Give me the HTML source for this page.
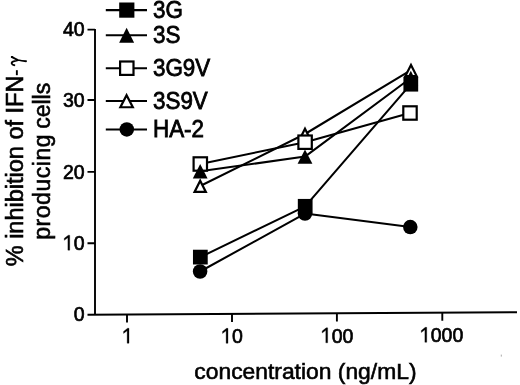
<!DOCTYPE html>
<html><head><meta charset="utf-8">
<style>
html,body{margin:0;padding:0;background:#fff;}
body{width:520px;height:385px;overflow:hidden;}
svg{display:block;filter:blur(0.3px);}
text{font-family:"Liberation Sans",sans-serif;fill:#000;stroke:#000;stroke-width:0.6px;}
</style></head>
<body>
<svg width="520" height="385" viewBox="0 0 520 385">
<g stroke="#000" stroke-width="1.9" fill="none" stroke-linecap="butt">
<path d="M95,29 V314.8"/>
<path d="M87.5,314.8 L517,312.2"/>
<path d="M87.5,29.6 H95 M87.5,100.0 H95 M87.5,171.9 H95 M87.5,243.3 H95"/>
<path d="M127,314.5 V322.6 M232,313.9 V322.1 M336.9,313.3 V321.4 M442.3,312.6 V320.8"/>
</g>
<text transform="translate(62.92,36.35) scale(1,1.08)" font-size="19.5" style="stroke-width:0.65px">4</text>
<text transform="translate(73.76,36.35) scale(1,1.08)" font-size="19.5" style="stroke-width:0.65px">0</text>
<text transform="translate(62.92,107.35) scale(1,1.08)" font-size="19.5" style="stroke-width:0.65px">3</text>
<text transform="translate(73.76,107.35) scale(1,1.08)" font-size="19.5" style="stroke-width:0.65px">0</text>
<text transform="translate(62.92,178.75) scale(1,1.08)" font-size="19.5" style="stroke-width:0.65px">2</text>
<text transform="translate(73.76,178.75) scale(1,1.08)" font-size="19.5" style="stroke-width:0.65px">0</text>
<text transform="translate(73.76,250.15) scale(1,1.08)" font-size="19.5" style="stroke-width:0.65px">0</text>
<polygon points="69.74,235.22 68.28,235.22 64.28,238.36 64.28,240.36 67.89,237.72 67.89,250.15 69.74,250.15" fill="#000" stroke="#000" stroke-width="0.3" stroke-linejoin="round"/>
<text transform="translate(73.76,321.05) scale(1,1.08)" font-size="19.5" style="stroke-width:0.65px">0</text>
<polygon points="129.00,328.27 127.54,328.27 123.54,331.41 123.54,333.41 127.15,330.77 127.15,343.20 129.00,343.20" fill="#000" stroke="#000" stroke-width="0.3" stroke-linejoin="round"/>
<text transform="translate(232.00,343.30) scale(1,1.08)" font-size="19.5" style="stroke-width:0.65px">0</text>
<polygon points="227.98,328.37 226.52,328.37 222.52,331.51 222.52,333.51 226.13,330.87 226.13,343.30 227.98,343.30" fill="#000" stroke="#000" stroke-width="0.3" stroke-linejoin="round"/>
<text transform="translate(331.68,342.80) scale(1,1.08)" font-size="19.5" style="stroke-width:0.65px">0</text>
<text transform="translate(342.52,342.80) scale(1,1.08)" font-size="19.5" style="stroke-width:0.65px">0</text>
<polygon points="327.66,327.87 326.20,327.87 322.20,331.01 322.20,333.01 325.81,330.37 325.81,342.80 327.66,342.80" fill="#000" stroke="#000" stroke-width="0.3" stroke-linejoin="round"/>
<text transform="translate(430.76,342.30) scale(1,1.08)" font-size="19.5" style="stroke-width:0.65px">0</text>
<text transform="translate(441.60,342.30) scale(1,1.08)" font-size="19.5" style="stroke-width:0.65px">0</text>
<text transform="translate(452.44,342.30) scale(1,1.08)" font-size="19.5" style="stroke-width:0.65px">0</text>
<polygon points="426.74,327.37 425.28,327.37 421.28,330.51 421.28,332.51 424.89,329.87 424.89,342.30 426.74,342.30" fill="#000" stroke="#000" stroke-width="0.3" stroke-linejoin="round"/>
<text x="194.3" y="378.9" font-size="22.85" style="stroke-width:0.6px">concentration (ng/mL)</text>
<g transform="translate(23.1,265.5) rotate(-90)">
<text x="-0.8" y="0" font-size="23.5">% inhibition of IFN</text>
</g>
<rect x="15.9" y="70.2" width="1.9" height="5" fill="#000"/>
<path d="M11.7,56.9 C14,58.2 16.2,59.4 18.2,60 C20.5,60.6 23.5,61 26.1,61.25 M18.2,60.25 L13.6,61.4 Q11.4,62.2 11.7,63.6 Q12.1,65 14.4,65.25" fill="none" stroke="#000" stroke-width="1.8" stroke-linecap="round"/>
<circle cx="12.1" cy="57.1" r="1.15" fill="#000"/>
<g transform="translate(49.7,238.2) rotate(-90)">
<text x="-1.5" y="0" font-size="23" textLength="105.2" lengthAdjust="spacing">producing</text>
<text x="109.4" y="0" font-size="23">cells</text>
</g>
<g stroke="#000" stroke-width="2.05" fill="none" stroke-linejoin="round">
<polyline points="200.2,186 305,134 411,70.15"/>
<polyline points="200.3,164 305.1,142.2 410,113"/>
<polyline points="200.35,257.1 305.2,206.3 410.8,84.2"/>
<polyline points="200.2,171.3 305,156.6 410.8,78"/>
<polyline points="200.1,271.5 305,213.6 410.3,227.1"/>
</g>
<g>
<polygon points="200.20,180.78 205.84,191.88 194.56,191.88" fill="#fff" stroke="#000" stroke-width="2.2" stroke-linejoin="miter"/>
<polygon points="305.00,128.78 310.64,139.88 299.36,139.88" fill="#fff" stroke="#000" stroke-width="2.2" stroke-linejoin="miter"/>
<polygon points="411.00,64.93 416.64,76.03 405.36,76.03" fill="#fff" stroke="#000" stroke-width="2.2" stroke-linejoin="miter"/>
<rect x="193.60" y="157.30" width="13.40" height="13.40" fill="#fff" stroke="#000" stroke-width="2.2"/>
<rect x="298.40" y="135.50" width="13.40" height="13.40" fill="#fff" stroke="#000" stroke-width="2.2"/>
<rect x="403.30" y="106.30" width="13.40" height="13.40" fill="#fff" stroke="#000" stroke-width="2.2"/>
<rect x="192.97" y="249.73" width="14.75" height="14.75" fill="#000"/>
<rect x="297.82" y="198.93" width="14.75" height="14.75" fill="#000"/>
<rect x="403.43" y="76.83" width="14.75" height="14.75" fill="#000"/>
<polygon points="200.20,164.10 207.60,178.50 192.80,178.50" fill="#000"/>
<polygon points="305.00,149.40 312.40,163.80 297.60,163.80" fill="#000"/>
<polygon points="410.80,70.80 418.20,85.20 403.40,85.20" fill="#000"/>
<circle cx="200.10" cy="271.50" r="7.25" fill="#000"/>
<circle cx="305.00" cy="213.60" r="7.25" fill="#000"/>
<circle cx="410.30" cy="227.10" r="7.25" fill="#000"/>
</g>
<g>
<path d="M105.8,10.1 H147" stroke="#000" stroke-width="2.05" fill="none"/>
<rect x="119.20" y="2.50" width="15.20" height="15.20" fill="#000"/>
<text transform="translate(153,17.70) scale(1,1.08)" font-size="22.4" style="stroke-width:0.75px">3G</text>
<path d="M105.8,35.3 H147" stroke="#000" stroke-width="2.05" fill="none"/>
<polygon points="126.60,27.80 134.10,42.80 119.10,42.80" fill="#000"/>
<text transform="translate(153,42.90) scale(1,1.08)" font-size="22.4" style="stroke-width:0.75px">3S</text>
<path d="M105.8,68.2 H147" stroke="#000" stroke-width="2.05" fill="none"/>
<rect x="120.10" y="61.50" width="13.40" height="13.40" fill="#fff" stroke="#000" stroke-width="2.2"/>
<text transform="translate(153,75.80) scale(1,1.08)" font-size="22.4" style="stroke-width:0.75px">3G9V</text>
<path d="M105.8,100.9 H147" stroke="#000" stroke-width="2.05" fill="none"/>
<polygon points="126.60,95.23 132.84,107.23 120.36,107.23" fill="#fff" stroke="#000" stroke-width="2.2" stroke-linejoin="miter"/>
<text transform="translate(153,108.50) scale(1,1.08)" font-size="22.4" style="stroke-width:0.75px">3S9V</text>
<path d="M105.8,129.4 H147" stroke="#000" stroke-width="2.05" fill="none"/>
<circle cx="126.80" cy="129.40" r="7.25" fill="#000"/>
<text transform="translate(153,137.00) scale(1,1.08)" font-size="22.4" style="stroke-width:0.75px">HA-2</text>
</g>
<rect x="500.8" y="354.6" width="1" height="2" fill="#aaa"/>
</svg>
</body></html>
